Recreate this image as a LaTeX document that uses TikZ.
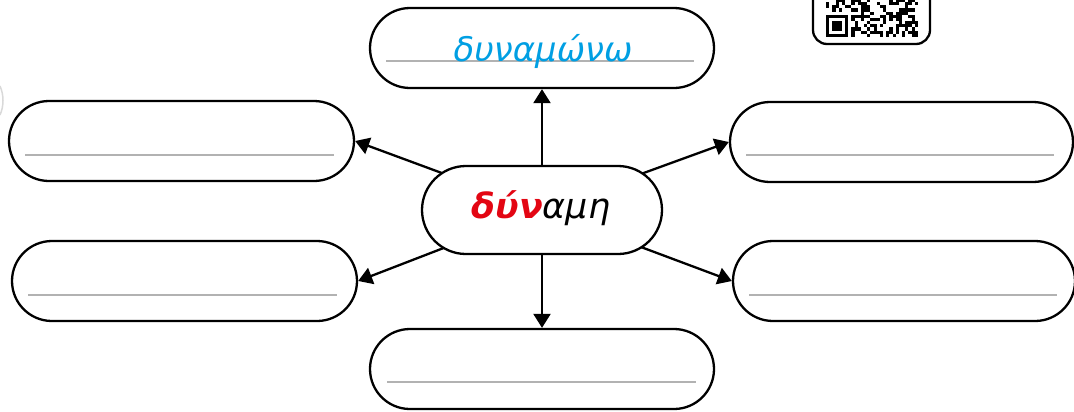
\documentclass[tikz,border=0pt]{standalone}
\usepackage{fontspec}
\setmainfont{DejaVu Sans}
\usetikzlibrary{arrows.meta,backgrounds}
\definecolor{myred}{RGB}{227,6,19}
\definecolor{myblue}{RGB}{0,159,227}
\definecolor{guidegray}{RGB}{178,178,178}
\begin{document}
\begin{tikzpicture}[x=1bp,y=-1bp,
  box/.style={draw,line width=2.3bp,rounded corners=40bp,minimum width=#1,minimum height=80bp,fill=white,inner sep=0pt},
  hub/.style={draw,line width=2.3bp,rounded corners=44bp,minimum width=240bp,minimum height=88bp,fill=white,inner sep=0pt},
  guide/.style={guidegray,line width=1.6bp},
  conn/.style={line width=2.3bp,-{Triangle[length=14bp,width=17bp]}},
  word/.style={anchor=base,inner sep=0pt,font=\fontsize{#1}{36}\selectfont\itshape}]
\useasboundingbox (0,0) rectangle (1074,411);

% boxes
\node[box=344bp] (top) at (542,48) {};
\node[box=345bp] (ul) at (181.5,141) {};
\node[box=343bp] (ur) at (901.5,142) {};
\node[box=345bp] (ll) at (184.5,281) {};
\node[box=342bp] (lr) at (904,281) {};
\node[box=344bp] (bot) at (542,369) {};
\node[hub] (c) at (542,210) {};

% guide lines
\draw[guide] (386,61) -- (694,61);
\draw[guide] (25,155) -- (334,155);
\draw[guide] (746,155) -- (1054,155);
\draw[guide] (28,295) -- (337,295);
\draw[guide] (749,295) -- (1057,295);
\draw[guide] (387,382) -- (696,382);

% texts
\node[word=34,text=myblue] (t1) at (543,61) {δυναμώνω};
\node[word=35] (t2) at (541,218) {\textcolor{myred}{\bfseries δύν}αμη};

% connectors
\begin{pgfonlayer}{background}
\draw[conn] (c.center) -- (ul.east);
\draw[conn] (c.center) -- (ur.west);
\draw[conn] (c.center) -- (ll.east);
\draw[conn] (c.center) -- (lr.west);
\end{pgfonlayer}
\draw[conn] (c.north) -- (top.south);
\draw[conn] (c.south) -- (bot.north);

% QR code (partly cut off)
\draw[line width=2.3bp,rounded corners=14bp] (813,-30) rectangle (930,44);
\pgfmathsetseed{17}
\foreach \i in {0,...,28}{
  \foreach \j in {0,...,11}{
    \pgfmathtruncatemacro\r{rnd<0.5}
    \pgfmathtruncatemacro\inf{(\i<8)&&(\j<8)}
    \ifnum\inf=0
      \ifnum\r=1
        \fill ({826+\i*3.17},{37-(\j+1)*3.17}) rectangle ++(3.17,3.17);
      \fi
    \fi
  }
}
\fill (826,{37-7*3.17}) rectangle ++({7*3.17},{7*3.17});
\fill[white] ({826+3.17},{37-6*3.17}) rectangle ++({5*3.17},{5*3.17});
\fill ({826+2*3.17},{37-5*3.17}) rectangle ++({3*3.17},{3*3.17});

% faint mark at left edge
\draw[gray!30,line width=1.5bp] (0,86) .. controls (4,95) and (4,106) .. (0,115);
\end{tikzpicture}
\end{document}
